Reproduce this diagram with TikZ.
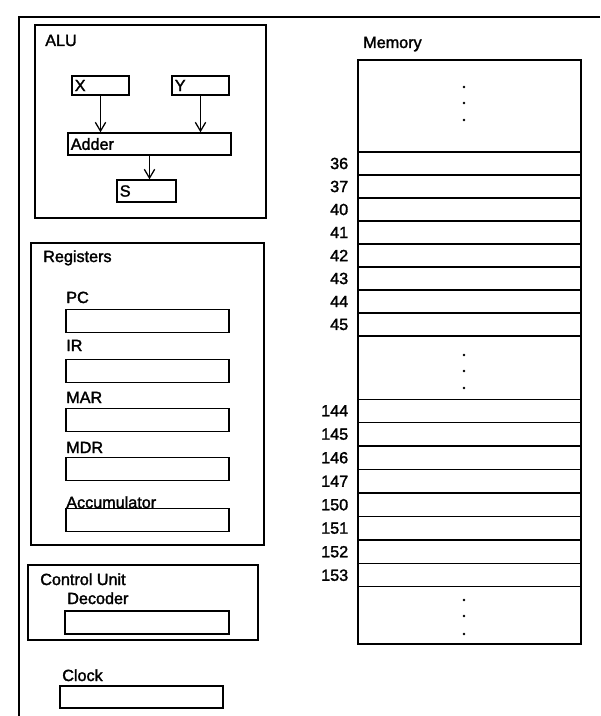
\documentclass[tikz,border=0pt]{standalone}
\usepackage{fontspec}
\setmainfont[FakeBold=1.8]{Liberation Sans}
\usetikzlibrary{arrows.meta,positioning}
\newcommand{\cpufont}{\fontsize{11.5pt}{13pt}\selectfont}

\begin{document}
\begin{tikzpicture}[
    x=0.025cm,y=-0.025cm,
    frame/.style = {draw,line width=1.2pt,inner sep=0pt},
    reg/.style   = {draw,line width=1pt,inner xsep=2pt,inner ysep=0pt,
                    minimum height=0.55cm,align=left,font=\cpufont},
    cell/.style  = {draw,line width=1pt,minimum width=5.575cm,
                    minimum height=0.575cm,inner sep=0pt},
    fl/.style    = {-{Straight Barb[length=2.2mm,width=2.6mm]},line width=0.9pt},
    tag/.style   = {font=\cpufont,anchor=base west,inner sep=0pt},
    num/.style   = {font=\cpufont,anchor=east,inner sep=0pt},
  ]
  \useasboundingbox[fill=white] (0,0) rectangle (600,716);

  % outer frame
  \draw[line width=1.2pt] (600,17) -- (19,17) -- (19,716);

  % ALU
  \node[frame,minimum width=5.775cm,minimum height=4.825cm] (alu) at (150.5,121.5) {};
  \node[tag] (alut) at (45,46) {ALU};
  \node[reg,text width=1.284cm,minimum height=0.475cm] (x) at (100.5,85.5) {X};
  \node[reg,text width=1.284cm,minimum height=0.475cm] (y) at (200.5,85.5) {Y};
  \node[reg,text width=3.934cm] (adder) at (149.5,144) {Adder};
  \node[reg,text width=1.334cm] (s) at (146.5,191) {S};
  \draw[fl] (x) -- (x |- adder.north);
  \draw[fl] (y) -- (y |- adder.north);
  \draw[fl] (adder) -- (adder |- s.north);

  % Registers
  \node[frame,minimum width=5.825cm,minimum height=7.55cm] (regs) at (147.5,394) {};
  \node[tag] (regst) at (43,262) {Registers};
  \foreach \n/\yy/\t/\b in {pc/321/PC/303,ir/371/IR/351,mar/420/MAR/403,
                            mdr/469/MDR/453,acc/520/Accumulator/508}{
    \node[reg,minimum width=4.075cm,minimum height=0.575cm] (\n) at (147.5,\yy) {};
    \node[tag] (\n t) at (66,\b) {\t};
  }

  % Control unit
  \node[frame,minimum width=5.75cm,minimum height=1.875cm] (cu) at (143,602.5) {};
  \node[tag] (cut) at (40,585) {Control Unit};
  \node[reg,minimum width=4.1cm,minimum height=0.575cm] (dec) at (147,622.5) {};
  \node[tag] (dect) at (67,604) {Decoder};

  % Clock
  \node[reg,minimum width=4.075cm] (clk) at (141.5,697) {};
  \node[tag] (clkt) at (62,681) {Clock};

  % Memory
  \node[tag] (memt) at (363,48) {Memory};
  \node[frame,minimum width=5.575cm,minimum height=14.6cm] (mem) at (469.5,352) {};
  \foreach \a [count=\i from 0] in {36,37,40,41,42,43,44,45}{
    \node[cell] (m\a) at (469.5,{163.5+23*\i}) {};
    \node[num] at ([xshift=-0.22cm]m\a.west) {\a};
  }
  \foreach \a [count=\i from 0] in {144,145,146,147,150,151,152,153}{
    \node[cell] (m\a) at (469.5,{410.75+23.5*\i}) {};
    \node[num] at ([xshift=-0.22cm]m\a.west) {\a};
  }
  \foreach \yy in {87,103,120,355,371,388,600,616,634}
    \fill (464,\yy) circle (1pt);

\end{tikzpicture}
\end{document}
